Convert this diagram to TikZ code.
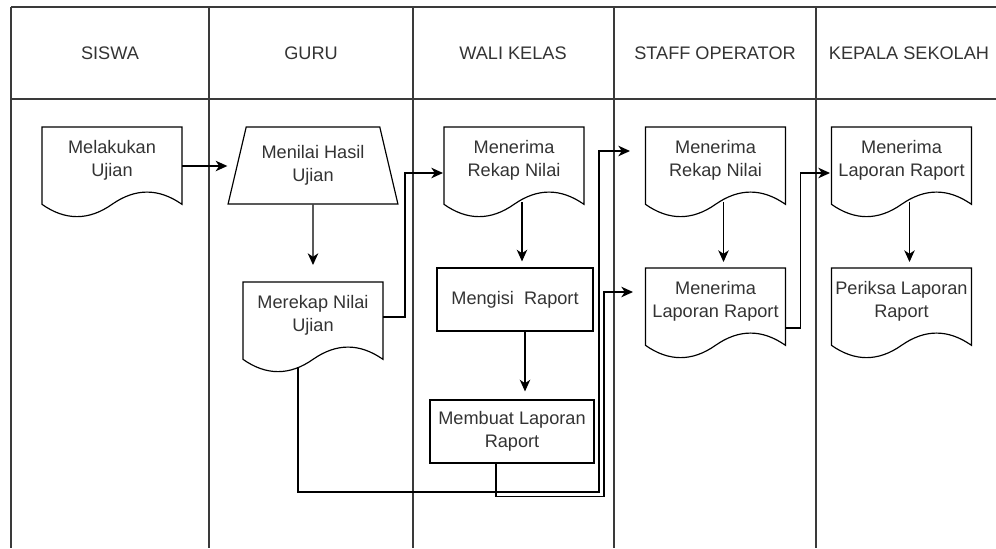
\documentclass[tikz,border=0pt]{standalone}
\usepackage{fontspec}
\setmainfont{Liberation Sans}
\usetikzlibrary{shapes.geometric,arrows.meta}
\definecolor{ink}{HTML}{333333}
\definecolor{lanegray}{HTML}{3A3A3A}

\begin{document}
\begin{tikzpicture}[x=0.03cm, y=-0.03cm,
  lane/.style={draw=lanegray, line width=1.3pt},
  head/.style={font=\fontsize{15.5}{19.6}\selectfont, text=ink},
  doc/.style={rectangle, anchor=north, minimum width=4.2cm, minimum height=1.98cm, inner xsep=1pt, align=center, font=\fontsize{15.5}{19.6}\selectfont, text=ink},
  proc/.style={rectangle, draw, line width=1pt, inner sep=1pt, align=center, font=\fontsize{15.5}{19.6}\selectfont, text=ink},
  manual/.style={trapezium, draw, line width=1pt, trapezium left angle=71.3, trapezium right angle=71.3, trapezium stretches=true, minimum width=5.1cm, minimum height=2.31cm, inner sep=1pt, align=center, font=\fontsize{15.5}{19.6}\selectfont, text=ink},
  docline/.style={draw, line width=1pt},
  arr/.style={-{Stealth[length=10pt,width=9pt,inset=3pt]}, line width=1.1pt}
]
  \useasboundingbox (0,0) rectangle (996,548);

  % swimlanes
  \draw[lane] (11,7) -- (996,7);
  \draw[lane] (11,99) -- (996,99);
  \foreach \x in {11,209,413,614,816}
    \draw[lane] (\x,7) -- (\x,548);

  \node[head] (siswa)  at (110,53) {SISWA};
  \node[head] (guru)   at (311,53) {GURU};
  \node[head] (wali)   at (513,53) {WALI KELAS};
  \node[head] (staff)  at (715,53) {STAFF OPERATOR};
  \node[head] (kepala) at (909,53) {KEPALA SEKOLAH};

  % steps
  \node[doc]    (melakukan) at (112,127)   {Melakukan\\Ujian};
  \node[manual] (menilai)   at (313,165.5) {Menilai Hasil\\Ujian};
  \node[doc]    (merekap)   at (313,282)   {Merekap Nilai\\Ujian};
  \node[doc]    (wrekap)    at (514,127)   {Menerima\\Rekap Nilai};
  \node[proc, minimum width=4.68cm, minimum height=1.89cm] (mengisi) at (515,299.5) {Mengisi~~Raport};
  \node[proc, minimum width=4.92cm, minimum height=1.89cm] (membuat) at (512,431.5) {Membuat Laporan\\Raport};
  \node[doc]    (srekap)    at (715.5,127) {Menerima\\Rekap Nilai};
  \node[doc]    (slapor)    at (715.5,268) {Menerima\\Laporan Raport};
  \node[doc]    (klapor)    at (901.5,127) {Menerima\\Laporan Raport};
  \node[doc]    (periksa)   at (901.5,268) {Periksa Laporan\\Raport};

  % document outlines
  \foreach \d in {melakukan,merekap,wrekap,srekap,slapor,klapor,periksa}
    \draw[docline, shift={(\d.north)}] (-70,0) -- (70,0) -- (70,77.35)
      .. controls (46.67,60.98) and (23.33,60.98) .. (0,77.35)
      .. controls (-23.33,93.72) and (-46.67,93.72) .. (-70,77.35) -- cycle;

  % flow
  \draw[arr] ([shift={(70,39)}]melakukan.north) coordinate (u1) -- (u1 -| menilai.bottom left corner);
  \draw[arr, shorten >=0.51cm] (menilai.south) -- (merekap.north);
  \draw[arr] ([shift={(70,35)}]merekap.north) -- ++(22,0) |- ([shift={(-71,46)}]wrekap.north);
  \draw[arr] ([shift={(-15,86)}]merekap.north) -- ++(0,124) -| ([shift={(-116.5,24)}]srekap.north) -- ([shift={(-85.5,24)}]srekap.north);
  \draw[arr, shorten >=0.18cm] ([shift={(8,75)}]wrekap.north) coordinate (w1) -- (w1 |- mengisi.north);
  \draw[arr, shorten >=0.24cm] ([shift={(10,0)}]mengisi.south) coordinate (w2) -- (w2 |- membuat.north);
  \draw[arr] ([shift={(-16,0)}]membuat.south) -- ++(0,33) -| ([shift={(-111.5,24)}]slapor.north) -- ([shift={(-82.5,24)}]slapor.north);
  \draw[arr, shorten >=0.18cm] ([shift={(8,75)}]srekap.north) coordinate (s1) -- (s1 |- slapor.north);
  \draw[arr] ([shift={(70,60)}]slapor.north) -- ++(15,0) |- ([shift={(-71.5,46)}]klapor.north);
  \draw[arr, shorten >=0.18cm] ([shift={(8,75)}]klapor.north) coordinate (k1) -- (k1 |- periksa.north);
\end{tikzpicture}
\end{document}
